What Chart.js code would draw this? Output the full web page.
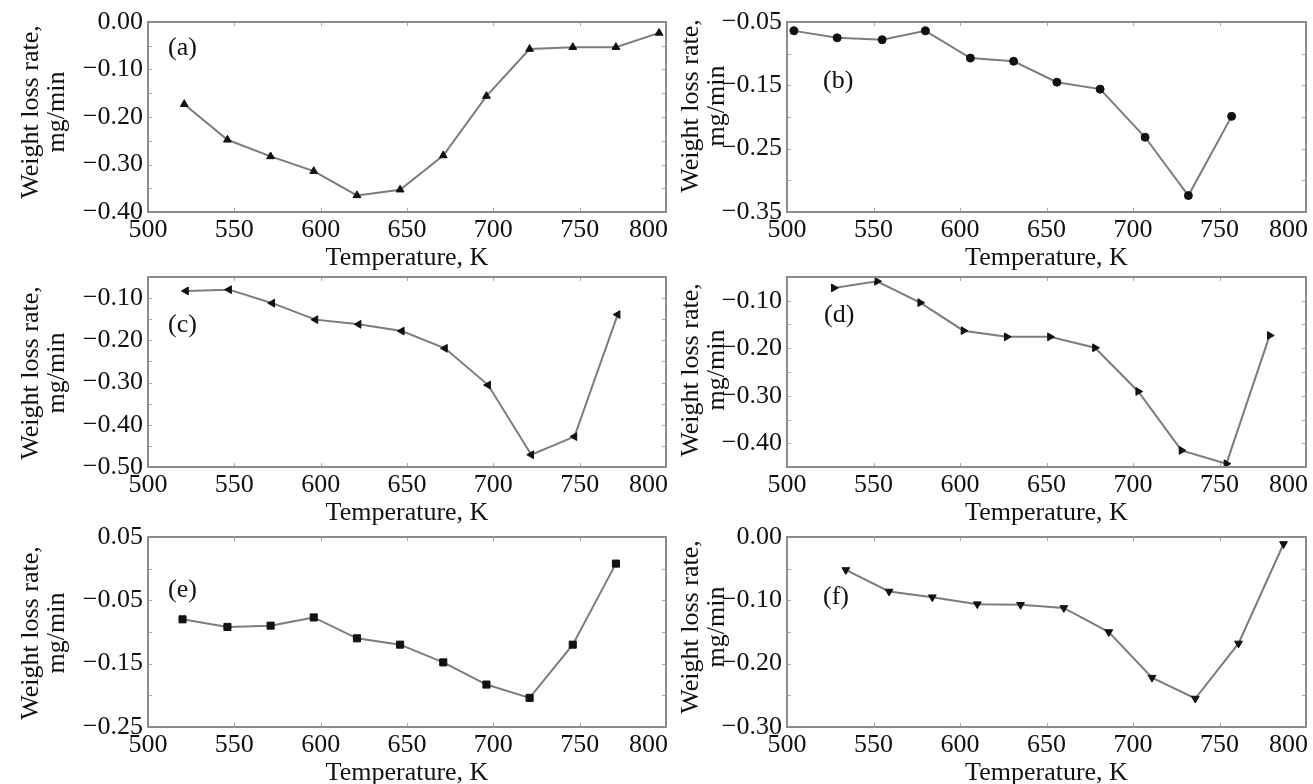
<!DOCTYPE html>
<html>
<head>
<meta charset="utf-8">
<script src="https://cdn.jsdelivr.net/npm/chart.js@4.4.0/dist/chart.umd.min.js"></script>
<style>
  html, body { margin: 0; padding: 0; background: #fff; overflow: hidden; width: 1313px; height: 784px; position: relative; }
  canvas { position: absolute; }
</style>
</head>
<body>
<canvas id="pa" width="700" height="280" style="left:0;top:0"></canvas>
<canvas id="pb" width="680" height="280" style="left:660px;top:0"></canvas>
<canvas id="pc" width="700" height="280" style="left:0;top:255px"></canvas>
<canvas id="pd" width="680" height="280" style="left:660px;top:255px"></canvas>
<canvas id="pe" width="700" height="280" style="left:0;top:515px"></canvas>
<canvas id="pf" width="680" height="280" style="left:660px;top:515px"></canvas>
<script>
// values (temperature in K, weight loss rate in mg/min)
const tempA = [521, 546, 571, 596, 621, 646, 671, 696, 721, 746, 771, 796];
const rateA = [-0.173, -0.248, -0.283, -0.314, -0.365, -0.353, -0.281, -0.156, -0.057, -0.053, -0.053, -0.023];

const tempB = [504, 529, 555, 580, 606, 631, 656, 681, 707, 732, 757];
const rateB = [-0.064, -0.075, -0.078, -0.064, -0.107, -0.112, -0.145, -0.156, -0.232, -0.324, -0.199];

const tempC = [522, 547, 572, 597, 622, 647, 672, 697, 722, 747, 772];
const rateC = [-0.083, -0.080, -0.112, -0.151, -0.162, -0.178, -0.219, -0.306, -0.471, -0.428, -0.139];

const tempD = [527, 552, 577, 602, 627, 652, 678, 703, 728, 754, 779];
const rateD = [-0.073, -0.059, -0.104, -0.163, -0.176, -0.176, -0.199, -0.291, -0.415, -0.443, -0.173];

const tempE = [520, 546, 571, 596, 621, 646, 671, 696, 721, 746, 771];
const rateE = [-0.080, -0.092, -0.090, -0.077, -0.110, -0.120, -0.148, -0.183, -0.204, -0.120, 0.008];

const tempF = [534, 559, 584, 610, 635, 660, 686, 711, 736, 761, 787];
const rateF = [-0.052, -0.086, -0.095, -0.106, -0.107, -0.112, -0.150, -0.222, -0.255, -0.168, -0.011];

// labelled y ticks of each panel
const yTicksA = [0.00, -0.10, -0.20, -0.30, -0.40];
const yTicksB = [-0.05, -0.15, -0.25, -0.35];
const yTicksC = [-0.10, -0.20, -0.30, -0.40, -0.50];
const yTicksD = [-0.10, -0.20, -0.30, -0.40];
const yTicksE = [0.05, -0.05, -0.15, -0.25];
const yTicksF = [0.00, -0.10, -0.20, -0.30];
const xTicks = [500, 550, 600, 650, 700, 750, 800];

const xTitle = 'Temperature, K';
const yTitle = ['Weight loss rate,', 'mg/min'];

const FONT = '"Liberation Serif", "Times New Roman", serif';

function fmt(v) {
  const s = Math.abs(v).toFixed(2);
  return v < -1e-9 ? '\u2212' + s : s;
}

// frame, inward ticks, y title and panel letter
const panelDeco = {
  id: 'panelDeco',
  beforeDraw(chart) {
    // last x label sits flush with the right frame, like the original
    const xs = chart.scales.x;
    const items = xs.getLabelItems(chart.chartArea);
    const last = items[items.length - 1];
    if (last) {
      last.options.textAlign = 'right';
      last.options.translation[0] = chart.chartArea.right + 2;
    }
  },
  afterDraw(chart, args, o) {
    const ctx = chart.ctx, a = chart.chartArea;
    const xs = chart.scales.x, ys = chart.scales.y;
    ctx.save();

    // tick marks pointing inwards on all four sides
    ctx.strokeStyle = '#a8a8a8';
    ctx.lineWidth = 1;
    ctx.beginPath();
    xs.ticks.forEach(t => {
      const px = Math.round(xs.getPixelForValue(t.value)) + 0.5;
      ctx.moveTo(px, a.bottom); ctx.lineTo(px, a.bottom - 4);
      ctx.moveTo(px, a.top); ctx.lineTo(px, a.top + 4);
    });
    for (let k = Math.round(ys.min * 20); k <= Math.round(ys.max * 20); k++) {
      const py = Math.round(ys.getPixelForValue(k / 20)) + 0.5;
      ctx.moveTo(a.left, py); ctx.lineTo(a.left + 4, py);
      ctx.moveTo(a.right, py); ctx.lineTo(a.right - 4, py);
    }
    ctx.stroke();

    // frame
    ctx.strokeStyle = '#8c8c8c';
    ctx.lineWidth = 2;
    ctx.strokeRect(a.left, a.top, a.right - a.left, a.bottom - a.top);

    // y axis title, two lines
    ctx.fillStyle = '#111';
    ctx.font = '26px ' + FONT;
    ctx.textAlign = 'center';
    ctx.textBaseline = 'middle';
    const cy = (a.top + a.bottom) / 2 + o.titleDy;
    [[yTitle[0], 31], [yTitle[1], 57]].forEach(([t, x]) => {
      ctx.save();
      ctx.translate(x, cy);
      ctx.rotate(-Math.PI / 2);
      ctx.fillText(t, 0, 0);
      ctx.restore();
    });

    // panel letter
    ctx.textAlign = 'left';
    ctx.fillText(o.letter, o.lx, o.ly);
    ctx.restore();
  }
};

function makePanel(id, temps, rates, yTicks, cfg) {
  const pts = temps.map((t, i) => ({ x: t, y: rates[i] }));
  new Chart(document.getElementById(id), {
    type: 'line',
    data: {
      datasets: [{
        data: pts,
        borderColor: '#7c7c7c',
        borderWidth: 2,
        tension: 0,
        pointStyle: cfg.marker,
        rotation: cfg.rot,
        pointRadius: cfg.r,
        pointBackgroundColor: '#111',
        pointBorderColor: '#111',
        pointBorderWidth: 1
      }]
    },
    options: {
      responsive: false,
      animation: false,
      events: [],
      layout: { padding: { top: 22, right: 34, bottom: 0, left: 0 } },
      plugins: {
        legend: { display: false },
        tooltip: { enabled: false },
        panelDeco: { letter: cfg.letter, lx: cfg.lx, ly: cfg.ly, titleDy: cfg.dy }
      },
      scales: {
        x: {
          type: 'linear', min: 500, max: 800,
          grid: { display: false, drawTicks: false },
          border: { display: false },
          ticks: {
            padding: 3, color: '#111', autoSkip: false, maxRotation: 0,
            font: { family: FONT, size: 26 }
          },
          afterBuildTicks: s => { s.ticks = xTicks.map(v => ({ value: v })); },
          title: {
            display: true, text: xTitle, color: '#111',
            font: { family: FONT, size: 26 },
            padding: { top: 0, bottom: 6 }
          },
          afterFit: s => { s.height = 68; }
        },
        y: {
          type: 'linear', min: cfg.ymin, max: cfg.ymax,
          grid: { display: false, drawTicks: false },
          border: { display: false },
          ticks: {
            padding: 5, color: '#111', autoSkip: false,
            font: { family: FONT, size: 26 },
            callback: v => fmt(v)
          },
          afterBuildTicks: s => { s.ticks = yTicks.map(v => ({ value: v })); },
          afterFit: s => { s.width = cfg.yw; }
        }
      }
    },
    plugins: [panelDeco]
  });
}

makePanel('pa', tempA, rateA, yTicksA, { letter: '(a)', marker: 'triangle', rot: 0, r: 4.5, ymin: -0.40, ymax: 0.00, yw: 148, lx: 168, ly: 48, dy: -5 });
makePanel('pb', tempB, rateB, yTicksB, { letter: '(b)', marker: 'circle', rot: 0, r: 4, ymin: -0.35, ymax: -0.05, yw: 127, lx: 163, ly: 81, dy: -11 });
makePanel('pc', tempC, rateC, yTicksC, { letter: '(c)', marker: 'triangle', rot: -90, r: 4.5, ymin: -0.50, ymax: -0.05, yw: 148, lx: 168, ly: 70, dy: 1 });
makePanel('pd', tempD, rateD, yTicksD, { letter: '(d)', marker: 'triangle', rot: 90, r: 4.5, ymin: -0.45, ymax: -0.05, yw: 127, lx: 164, ly: 60, dy: -2 });
makePanel('pe', tempE, rateE, yTicksE, { letter: '(e)', marker: 'rect', rot: 0, r: 5, ymin: -0.25, ymax: 0.05, yw: 148, lx: 168, ly: 75, dy: 1 });
makePanel('pf', tempF, rateF, yTicksF, { letter: '(f)', marker: 'triangle', rot: 180, r: 4.5, ymin: -0.30, ymax: 0.00, yw: 127, lx: 163, ly: 82, dy: -5 });
</script>
</body>
</html>
